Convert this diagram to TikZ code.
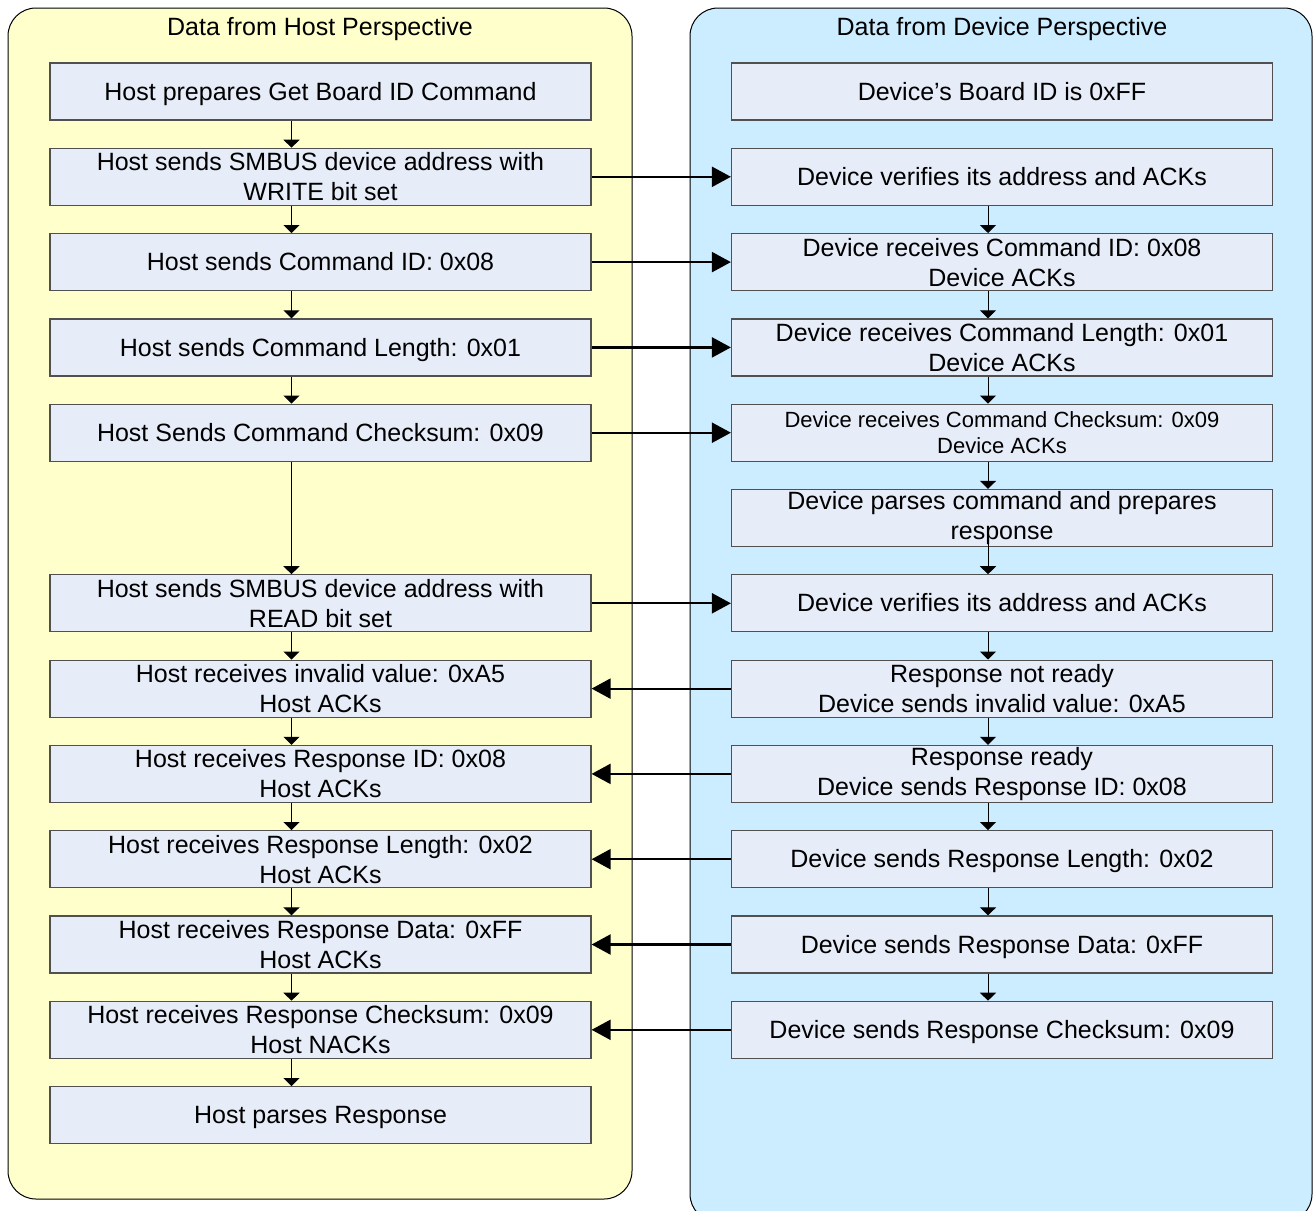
\documentclass[tikz,border=0pt]{standalone}
\usepackage{fontspec}
\setmainfont{Liberation Sans}
\usetikzlibrary{arrows.meta}
\definecolor{hostbg}{HTML}{FFFFCC}
\definecolor{devbg}{HTML}{CCECFF}
\definecolor{boxfill}{HTML}{E6ECF8}
\definecolor{boxline}{HTML}{505050}
\begin{document}
\begin{tikzpicture}[x=1pt,y=-1pt,
  panel/.style={draw=black, line width=1pt, rounded corners=28pt},
  stepbox/.style={draw=boxline, fill=boxfill, line width=1.2pt, minimum width=541pt, minimum height=57pt, inner sep=0pt, align=center, font=\fontsize{25}{30}\selectfont},
  oneline/.style={text height=22.6pt, text depth=5.3pt},
  smalltext/.style={font=\fontsize{22}{26}\selectfont},
  paneltitle/.style={inner sep=0pt, text height=22.6pt, text depth=5.3pt, font=\fontsize{25}{30}\selectfont},
  vflow/.style={line width=1pt, -{Triangle[width=16pt,length=8pt]}},
  hflow/.style={line width=2.2pt, -{Triangle[width=20pt,length=19pt]}},
]
\path[use as bounding box] (0,0) rectangle (1314,1210);
\fill[white] (0,0) rectangle (1314,1210);
\draw[panel, fill=hostbg] (8,8) rectangle (632,1199);
\draw[panel, fill=devbg] (690,8) rectangle (1312,1222);

\node[paneltitle] (th) at (320,27) {Data from Host Perspective};
\node[paneltitle] (td) at (1002,27) {Data from Device Perspective};

\coordinate (lx) at (291.5,0);
\coordinate (rx) at (988,0);

% Host column
\node[stepbox, oneline] (L0) at (320.5,91.5) {Host prepares Get Board ID Command};
\node[stepbox] (L1) at (320.5,176.8) {Host sends SMBUS device address with\\WRITE bit set};
\node[stepbox, oneline] (L2) at (320.5,262.1) {Host sends Command ID: 0x08};
\node[stepbox, oneline] (L3) at (320.5,347.4) {Host sends Command Length: 0x01};
\node[stepbox, oneline] (L4) at (320.5,432.7) {Host Sends Command Checksum: 0x09};
\node[stepbox] (L6) at (320.5,603.3) {Host sends SMBUS device address with\\READ bit set};
\node[stepbox] (L7) at (320.5,688.6) {Host receives invalid value: 0xA5\\Host ACKs};
\node[stepbox] (L8) at (320.5,773.9) {Host receives Response ID: 0x08\\Host ACKs};
\node[stepbox] (L9) at (320.5,859.2) {Host receives Response Length: 0x02\\Host ACKs};
\node[stepbox] (L10) at (320.5,944.5) {Host receives Response Data: 0xFF\\Host ACKs};
\node[stepbox] (L11) at (320.5,1029.8) {Host receives Response Checksum: 0x09\\Host NACKs};
\node[stepbox, oneline] (L12) at (320.5,1115.1) {Host parses Response};

% Device column
\node[stepbox, oneline] (R0) at (1002,91.5) {Device’s Board ID is 0xFF};
\node[stepbox, oneline] (R1) at (1002,176.8) {Device verifies its address and ACKs};
\node[stepbox] (R2) at (1002,262.1) {Device receives Command ID: 0x08\\Device ACKs};
\node[stepbox] (R3) at (1002,347.4) {Device receives Command Length: 0x01\\Device ACKs};
\node[stepbox, smalltext] (R4) at (1002,432.7) {Device receives Command Checksum: 0x09\\Device ACKs};
\node[stepbox] (R5) at (1002,518.0) {Device parses command and prepares\\response};
\node[stepbox, oneline] (R6) at (1002,603.3) {Device verifies its address and ACKs};
\node[stepbox] (R7) at (1002,688.6) {Response not ready\\Device sends invalid value: 0xA5};
\node[stepbox] (R8) at (1002,773.9) {Response ready\\Device sends Response ID: 0x08};
\node[stepbox, oneline] (R9) at (1002,859.2) {Device sends Response Length: 0x02};
\node[stepbox, oneline] (R10) at (1002,944.5) {Device sends Response Data: 0xFF};
\node[stepbox, oneline] (R11) at (1002,1029.8) {Device sends Response Checksum: 0x09};

% Host vertical flow
\draw[vflow] (L0.south -| lx) -- (L1.north -| lx);
\draw[vflow] (L1.south -| lx) -- (L2.north -| lx);
\draw[vflow] (L2.south -| lx) -- (L3.north -| lx);
\draw[vflow] (L3.south -| lx) -- (L4.north -| lx);
\draw[vflow] (L4.south -| lx) -- (L6.north -| lx);
\draw[vflow] (L6.south -| lx) -- (L7.north -| lx);
\draw[vflow] (L7.south -| lx) -- (L8.north -| lx);
\draw[vflow] (L8.south -| lx) -- (L9.north -| lx);
\draw[vflow] (L9.south -| lx) -- (L10.north -| lx);
\draw[vflow] (L10.south -| lx) -- (L11.north -| lx);
\draw[vflow] (L11.south -| lx) -- (L12.north -| lx);

% Device vertical flow
\draw[vflow] (R1.south -| rx) -- (R2.north -| rx);
\draw[vflow] (R2.south -| rx) -- (R3.north -| rx);
\draw[vflow] (R3.south -| rx) -- (R4.north -| rx);
\draw[vflow] (R4.south -| rx) -- (R5.north -| rx);
\draw[vflow] ([yshift=14pt]R5.south -| rx) -- (R6.north -| rx);
\draw[vflow] (R6.south -| rx) -- (R7.north -| rx);
\draw[vflow] (R7.south -| rx) -- (R8.north -| rx);
\draw[vflow] (R8.south -| rx) -- (R9.north -| rx);
\draw[vflow] (R9.south -| rx) -- (R10.north -| rx);
\draw[vflow] (R10.south -| rx) -- (R11.north -| rx);

% Cross-panel messages
\draw[hflow] (L1.east) -- (R1.west);
\draw[hflow] (L2.east) -- (R2.west);
\draw[hflow] (L3.east) -- (R3.west);
\draw[hflow] (L4.east) -- (R4.west);
\draw[hflow] (L6.east) -- (R6.west);
\draw[hflow] (R7.west) -- (L7.east);
\draw[hflow] (R8.west) -- (L8.east);
\draw[hflow] (R9.west) -- (L9.east);
\draw[hflow] (R10.west) -- (L10.east);
\draw[hflow] (R11.west) -- (L11.east);
\end{tikzpicture}
\end{document}
